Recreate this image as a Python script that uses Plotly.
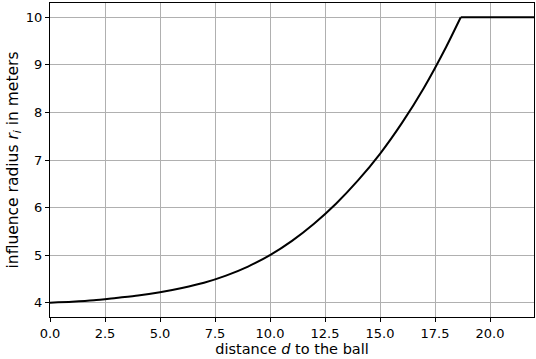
import plotly.graph_objects as go

# values
curve_d = [0, 1, 2, 3, 4, 5, 6, 7, 8, 9, 10, 11, 12, 13, 14, 15, 16, 17, 18, 18.67]
curve_r = [4.00, 4.02, 4.05, 4.10, 4.15, 4.22, 4.31, 4.42, 4.57, 4.76, 5.00,
           5.30, 5.66, 6.08, 6.57, 7.13, 7.78, 8.52, 9.37, 10.0]
plateau_d = [18.67, 22.0]
plateau_r = [10.0, 10.0]

x_ticks = [0, 2.5, 5, 7.5, 10, 12.5, 15, 17.5, 20]
x_tick_labels = ["0.0", "2.5", "5.0", "7.5", "10.0", "12.5", "15.0", "17.5", "20.0"]
y_ticks = [4, 5, 6, 7, 8, 9, 10]
y_tick_labels = ["4", "5", "6", "7", "8", "9", "10"]

fig = go.Figure()
fig.add_trace(go.Scatter(x=curve_d, y=curve_r, mode="lines",
                         line=dict(color="black", width=2, shape="spline", smoothing=0.6),
                         showlegend=False, hoverinfo="skip"))
fig.add_trace(go.Scatter(x=plateau_d, y=plateau_r, mode="lines",
                         line=dict(color="black", width=2),
                         showlegend=False, hoverinfo="skip"))

tick_font = dict(family="DejaVu Sans", size=13, color="black")
xtitle_font = dict(family="DejaVu Sans", size=14.5, color="black")
ytitle_font = dict(family="DejaVu Sans", size=15.5, color="black")
axis_common = dict(showline=True, linecolor="black", linewidth=1, mirror=True,
                   ticks="outside", ticklen=4, tickcolor="black", tickwidth=1,
                   showgrid=True, gridcolor="#b0b0b0", gridwidth=1,
                   zeroline=False, tickfont=tick_font, automargin=False)

fig.update_layout(
    width=536, height=359,
    margin=dict(l=50, r=2, t=3, b=42, autoexpand=False),
    paper_bgcolor="white", plot_bgcolor="white",
    font=tick_font,
    xaxis=dict(range=[0, 22], tickmode="array", tickvals=x_ticks, ticktext=x_tick_labels,
               title=dict(text="distance <i>d</i> to the ball", font=xtitle_font, standoff=1),
               **axis_common),
    yaxis=dict(range=[3.7, 10.3], tickmode="array", tickvals=y_ticks, ticktext=y_tick_labels,
               title=dict(text="influence radius <i>r<sub>i</sub></i> in meters", font=ytitle_font, standoff=3),
               **axis_common),
)

fig.write_html("out.html", config={"displayModeBar": False},
               post_script="document.body.style.margin='0';document.body.style.overflow='hidden';")
